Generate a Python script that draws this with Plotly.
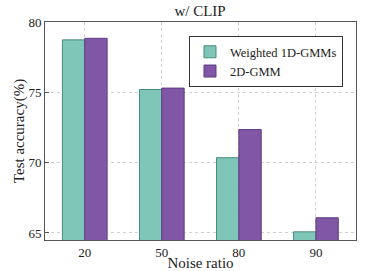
import plotly.graph_objects as go

categories = ["20", "50", "80", "90"]
weighted_1d = [78.73, 75.2, 70.35, 65.08]
gmm_2d = [78.84, 75.3, 72.35, 66.08]
y_ticks = [65, 70, 75, 80]

xpos = list(range(1, len(categories) + 1))
font = "Liberation Serif, Times New Roman, serif"

fig = go.Figure()
fig.add_trace(go.Bar(x=xpos, y=weighted_1d, name="Weighted 1D-GMMs",
                     marker=dict(color="rgb(128,198,184)", line=dict(color="rgb(70,140,125)", width=1))))
fig.add_trace(go.Bar(x=xpos, y=gmm_2d, name="2D-GMM",
                     marker=dict(color="rgb(127,87,166)", line=dict(color="rgb(95,60,130)", width=1))))

fig.update_layout(
    width=374, height=271,
    margin=dict(l=45, r=18, t=22, b=31, autoexpand=False),
    barmode="group", bargap=0.42, bargroupgap=0,
    paper_bgcolor="white", plot_bgcolor="white",
    font=dict(family=font, size=13, color="#222"),
    title=dict(text="w/ CLIP", x=0.535, xanchor="center", y=0.96, yanchor="middle",
               font=dict(family=font, size=15, color="#222")),
    showlegend=True,
    legend=dict(x=0.463, y=0.935, xanchor="left", yanchor="top",
                bgcolor="white", bordercolor="#333", borderwidth=1,
                font=dict(family=font, size=12.5, color="#222"),
                tracegroupgap=0, itemwidth=30),
    xaxis=dict(range=[0.484, 4.52], tickvals=xpos, ticktext=categories,
               showline=True, linecolor="#555", linewidth=1, mirror=True,
               showgrid=True, gridcolor="#d0d0d0", griddash="dot", gridwidth=1,
               ticks="", zeroline=False, automargin=False,
               title=dict(text="Noise ratio", standoff=0, font=dict(family=font, size=15, color="#222"))),
    yaxis=dict(range=[64.5, 80], tickvals=y_ticks,
               showline=True, linecolor="#555", linewidth=1, mirror=True,
               showgrid=True, gridcolor="#d0d0d0", griddash="dot", gridwidth=1,
               ticks="inside", ticklen=4, tickcolor="#555", zeroline=False, automargin=False,
               title=dict(text="Test accuracy(%)", standoff=0, font=dict(family=font, size=15, color="#222"))),
)

fig.write_html("out.html", config={"displayModeBar": False},
               post_script="document.body.style.margin='0';")
